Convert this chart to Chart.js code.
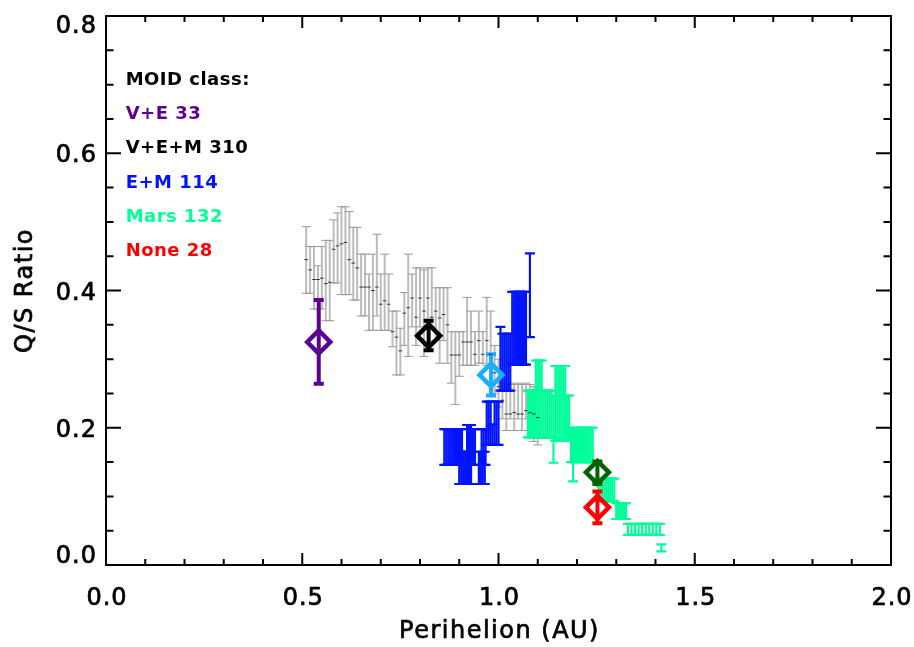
<!DOCTYPE html>
<html>
<head>
<meta charset="utf-8">
<title>Q/S Ratio vs Perihelion</title>
<script src="https://cdn.jsdelivr.net/npm/chart.js@4.4.1/dist/chart.umd.min.js"></script>
<style>
  html, body { margin: 0; padding: 0; background: #ffffff; }
  #wrap { width: 914px; height: 647px; }
</style>
</head>
<body>
<div id="wrap"><canvas id="qsChart" width="914" height="647"></canvas></div>
<script>
// Axis ticks and labels
const xMajorTicks = [0.0, 0.5, 1.0, 1.5, 2.0];
const xTickLabels = ['0.0', '0.5', '1.0', '1.5', '2.0'];
const xMinorTicks = [0.1, 0.2, 0.3, 0.4, 0.6, 0.7, 0.8, 0.9, 1.1, 1.2, 1.3, 1.4, 1.6, 1.7, 1.8, 1.9];
const yMajorTicks = [0.0, 0.2, 0.4, 0.6, 0.8];
const yTickLabels = ['0.0', '0.2', '0.4', '0.6', '0.8'];
const yMinorTicks = [0.05, 0.1, 0.15, 0.25, 0.3, 0.35, 0.45, 0.5, 0.55, 0.65, 0.7, 0.75];

// Legend text (MOID class counts)
const legendLabels = ['MOID class:', 'V+E 33', 'V+E+M 310', 'E+M 114', 'Mars 132', 'None 28'];
const legendColors = ['#000000', '#5c0094', '#000000', '#0014ff', '#00ff99', '#ff0000'];
const legendX = 0.05;
const legendY = [0.70, 0.65, 0.60, 0.55, 0.50, 0.45];

// V+E+M running values (grey)
const grayX = [0.51,0.52,0.53,0.54,0.55,0.56,0.57,0.58,0.59,0.60,
               0.61,0.62,0.63,0.64,0.65,0.66,0.67,0.68,0.69,0.70,
               0.71,0.72,0.73,0.74,0.75,0.76,0.77,0.78,0.79,0.80,
               0.81,0.82,0.83,0.84,0.85,0.86,0.87,0.88,0.89,0.90,
               0.91,0.92,0.93,0.94,0.95,0.96,0.97,0.98,0.99,1.00,
               1.01,1.02,1.03,1.04,1.05,1.06,1.07,1.08,1.09,1.10];
const grayQS = [0.445,0.430,0.416,0.416,0.418,0.410,0.412,0.460,0.465,0.468,
                0.470,0.445,0.440,0.433,0.405,0.405,0.405,0.400,0.405,0.380,
                0.385,0.380,0.340,0.332,0.312,0.367,0.375,0.389,0.361,0.389,
                0.370,0.389,0.361,0.370,0.360,0.365,0.350,0.306,0.306,0.306,
                0.325,0.325,0.325,0.307,0.327,0.307,0.327,0.307,0.280,0.260,
                0.240,0.220,0.220,0.222,0.220,0.220,0.225,0.222,0.220,0.215];
const grayLo = [0.396,0.396,0.373,0.373,0.373,0.356,0.356,0.411,0.411,0.394,
                0.394,0.394,0.386,0.386,0.363,0.363,0.342,0.342,0.363,0.342,
                0.342,0.342,0.318,0.277,0.277,0.320,0.304,0.347,0.320,0.347,
                0.304,0.347,0.347,0.327,0.294,0.327,0.294,0.265,0.234,0.275,
                0.291,0.291,0.291,0.291,0.294,0.294,0.291,0.291,0.250,0.230,
                0.213,0.196,0.213,0.196,0.213,0.196,0.213,0.196,0.180,0.175];
const grayHi = [0.493,0.464,0.464,0.436,0.464,0.473,0.473,0.503,0.513,0.522,
                0.522,0.515,0.492,0.492,0.453,0.453,0.424,0.453,0.482,0.424,
                0.453,0.424,0.370,0.370,0.345,0.397,0.453,0.424,0.433,0.433,
                0.430,0.433,0.433,0.404,0.404,0.404,0.404,0.340,0.340,0.340,
                0.340,0.390,0.370,0.340,0.370,0.340,0.390,0.370,0.320,0.300,
                0.265,0.263,0.265,0.263,0.265,0.263,0.265,0.263,0.260,0.255];

// E+M running values (blue)
const blueX  = [0.862,0.867,0.872,0.877,0.882,0.887,0.892,0.897,0.902,0.907,0.920,0.925,0.930,0.935,0.940,0.957,0.962,0.967,
                0.900,0.905,0.910,0.915,0.920,0.925,0.930,0.950,0.955,0.960,0.965,
                0.970,0.975,0.980,0.985,0.990,0.995,1.000,
                1.005,1.010,1.015,1.020,1.025,1.030,
                1.035,1.040,1.045,1.050,1.055,1.060,1.065,1.070,
                1.080];
const blueLo = [0.146,0.146,0.146,0.146,0.146,0.146,0.146,0.146,0.146,0.146,0.146,0.146,0.146,0.146,0.146,0.146,0.146,0.146,
                0.118,0.118,0.118,0.118,0.118,0.118,0.118,0.118,0.118,0.118,0.118,
                0.175,0.175,0.175,0.175,0.175,0.175,0.175,
                0.254,0.254,0.254,0.254,0.254,0.254,
                0.292,0.292,0.292,0.292,0.292,0.292,0.292,0.292,
                0.332];
const blueHi = [0.198,0.198,0.198,0.198,0.198,0.198,0.198,0.198,0.198,0.198,0.204,0.204,0.204,0.198,0.198,0.198,0.198,0.198,
                0.165,0.165,0.165,0.165,0.165,0.165,0.165,0.165,0.165,0.165,0.165,
                0.238,0.238,0.238,0.205,0.238,0.238,0.238,
                0.347,0.337,0.337,0.337,0.337,0.337,
                0.398,0.398,0.398,0.398,0.398,0.398,0.398,0.398,
                0.454];

// Mars running values (green)
const greenX  = [1.075,1.080,1.085,1.090,1.115,1.120,1.125,1.130,1.135,
                 1.095,1.100,1.105,1.110,
                 1.140,1.145,1.150,1.155,1.160,1.165,1.170,1.175,1.180,
                 1.185,1.190,1.195,1.200,1.205,1.210,1.215,1.220,1.225,1.230,1.235,1.240,
                 1.255,1.260,1.265,1.270,1.275,1.280,1.285,1.290,1.295,
                 1.300,1.305,1.310,1.315,1.320,1.325,
                 1.330,1.339,1.348,1.357,1.366,1.375,1.384,1.393,1.402,1.411,
                 1.415];
const greenLo = [0.186,0.186,0.186,0.186,0.186,0.186,0.186,0.186,0.186,
                 0.186,0.186,0.186,0.186,
                 0.149,0.181,0.181,0.181,0.181,0.181,0.181,0.181,0.181,
                 0.150,0.122,0.150,0.150,0.150,0.150,0.150,0.150,0.150,0.150,0.150,0.150,
                 0.093,0.093,0.093,0.093,0.093,0.093,0.093,0.093,0.093,
                 0.067,0.067,0.067,0.067,0.067,0.067,
                 0.044,0.044,0.044,0.044,0.044,0.044,0.044,0.044,0.044,0.044,
                 0.020];
const greenHi = [0.254,0.254,0.254,0.254,0.254,0.254,0.254,0.254,0.254,
                 0.298,0.298,0.298,0.298,
                 0.247,0.290,0.290,0.290,0.290,0.290,0.290,0.247,0.247,
                 0.200,0.200,0.200,0.200,0.200,0.200,0.200,0.200,0.200,0.200,0.200,0.200,
                 0.126,0.126,0.126,0.126,0.126,0.126,0.126,0.126,0.126,
                 0.090,0.090,0.090,0.090,0.090,0.090,
                 0.060,0.060,0.060,0.060,0.060,0.060,0.060,0.060,0.060,0.060,
                 0.030];

// class means (V+E, V+E+M, E+M, Mars, None)
const meanX  = [0.542, 0.822, 0.981, 1.252, 1.252];
const meanQS = [0.325, 0.334, 0.277, 0.135, 0.084];
const meanLo = [0.264, 0.313, 0.247, 0.118, 0.061];
const meanHi = [0.386, 0.356, 0.307, 0.151, 0.107];
const meanColors = ['#5c0094', '#000000', '#1aaeff', '#006400', '#ff0000'];

const FONT = '"DejaVu Sans", "Liberation Sans", sans-serif';

function toPoints(xs, ys) {
    return xs.map((x, i) => ({ x: x, y: ys[i] }));
}
function midPoints(xs, lo, hi) {
    return xs.map((x, i) => ({ x: x, y: (lo[i] + hi[i]) / 2 }));
}

// vertical error bars with caps, drawn through the chart scales
const errorBars = {
    id: 'errorBars',
    beforeDatasetsDraw(chart) {
        const ctx = chart.ctx;
        const xs = chart.scales.x, ys = chart.scales.y;
        chart.data.datasets.forEach(ds => {
            if (!ds.errLo) return;
            ctx.save();
            ctx.lineCap = 'butt';
            ds.data.forEach((p, i) => {
                const col = Array.isArray(ds.errColor) ? ds.errColor[i] : ds.errColor;
                const px = xs.getPixelForValue(p.x);
                const yl = ys.getPixelForValue(ds.errLo[i]);
                const yh = ys.getPixelForValue(ds.errHi[i]);
                const c = ds.capHalf;
                ctx.strokeStyle = col;
                ctx.lineWidth = ds.errWidth;
                ctx.beginPath();
                ctx.moveTo(px, yl); ctx.lineTo(px, yh);
                ctx.stroke();
                ctx.strokeStyle = ds.capColor || col;
                ctx.lineWidth = ds.capWidth || ds.errWidth;
                ctx.beginPath();
                ctx.moveTo(px - c, yl); ctx.lineTo(px + c, yl);
                ctx.moveTo(px - c, yh); ctx.lineTo(px + c, yh);
                ctx.stroke();
            });
            ctx.restore();
        });
    }
};

function heavyText(ctx, text, x, y) {
    ctx.fillText(text, x, y);
    ctx.strokeText(text, x, y);
}

// box, inward ticks on all sides, tick labels, titles, legend text
const frameAxes = {
    id: 'frameAxes',
    afterDraw(chart) {
        const ctx = chart.ctx;
        const a = chart.chartArea;
        const xs = chart.scales.x, ys = chart.scales.y;
        const xLen = 12, yLen = 15;
        ctx.save();
        ctx.strokeStyle = '#000';
        ctx.lineWidth = 2;
        ctx.strokeRect(a.left, a.top, a.right - a.left, a.bottom - a.top);
        ctx.beginPath();
        xMajorTicks.concat(xMinorTicks).forEach(v => {
            const len = xMajorTicks.includes(v) ? xLen : xLen / 2;
            const px = xs.getPixelForValue(v);
            ctx.moveTo(px, a.bottom); ctx.lineTo(px, a.bottom - len);
            ctx.moveTo(px, a.top); ctx.lineTo(px, a.top + len);
        });
        yMajorTicks.concat(yMinorTicks).forEach(v => {
            const len = yMajorTicks.includes(v) ? yLen : yLen / 2;
            const py = ys.getPixelForValue(v);
            ctx.moveTo(a.left, py); ctx.lineTo(a.left + len, py);
            ctx.moveTo(a.right, py); ctx.lineTo(a.right - len, py);
        });
        ctx.stroke();

        ctx.fillStyle = '#000';
        ctx.strokeStyle = '#000';
        ctx.lineWidth = 0.7;
        ctx.font = '24px ' + FONT;
        ctx.letterSpacing = '1px';
        ctx.textAlign = 'center';
        ctx.textBaseline = 'alphabetic';
        xMajorTicks.forEach((v, i) => {
            heavyText(ctx, xTickLabels[i], xs.getPixelForValue(v) + 1, a.bottom + 40);
        });
        ctx.textAlign = 'right';
        ctx.textBaseline = 'middle';
        yMajorTicks.forEach((v, i) => {
            let cy = ys.getPixelForValue(v) + 3;
            cy = Math.max(a.top + 11, Math.min(a.bottom - 8.5, cy));
            heavyText(ctx, yTickLabels[i], a.left - 9, cy);
        });

        ctx.letterSpacing = '1.5px';
        ctx.textAlign = 'center';
        ctx.textBaseline = 'alphabetic';
        heavyText(ctx, 'Perihelion (AU)', (a.left + a.right) / 2 + 1, a.bottom + 73);
        ctx.save();
        ctx.translate(32, (a.top + a.bottom) / 2);
        ctx.rotate(-Math.PI / 2);
        heavyText(ctx, 'Q/S Ratio', 0, 0);
        ctx.restore();

        ctx.letterSpacing = '0.5px';
        ctx.font = 'bold 18px ' + FONT;
        ctx.textAlign = 'left';
        legendLabels.forEach((t, i) => {
            ctx.fillStyle = legendColors[i];
            ctx.fillText(t, xs.getPixelForValue(legendX), ys.getPixelForValue(legendY[i]));
        });
        ctx.restore();
    }
};

const ctx = document.getElementById('qsChart').getContext('2d');
const qsChart = new Chart(ctx, {
    type: 'scatter',
    data: {
        datasets: [
            {
                label: 'V+E+M',
                data: toPoints(grayX, grayQS),
                errLo: grayLo, errHi: grayHi,
                errColor: '#bcbcbc', errWidth: 2,
                capColor: '#9a9a9a', capWidth: 1, capHalf: 4.5,
                pointStyle: 'line', pointRadius: 1.8,
                pointBorderColor: '#333333', pointBorderWidth: 1
            },
            {
                label: 'E+M',
                data: midPoints(blueX, blueLo, blueHi),
                errLo: blueLo, errHi: blueHi,
                errColor: '#0014ff', errWidth: 2.2, capHalf: 5,
                pointRadius: 0
            },
            {
                label: 'Mars',
                data: midPoints(greenX, greenLo, greenHi),
                errLo: greenLo, errHi: greenHi,
                errColor: '#00ff99', errWidth: 2.2, capHalf: 5,
                pointRadius: 0
            },
            {
                label: 'Class means',
                data: toPoints(meanX, meanQS),
                errLo: meanLo, errHi: meanHi,
                errColor: meanColors, errWidth: 4, capHalf: 5,
                pointStyle: 'rectRot', pointRadius: 11.5,
                pointBorderWidth: 4.5,
                pointBorderColor: meanColors,
                pointBackgroundColor: 'rgba(0,0,0,0)'
            }
        ]
    },
    options: {
        responsive: false,
        animation: false,
        events: [],
        layout: { padding: { left: 106, right: 23, top: 7, bottom: 82 } },
        plugins: {
            legend: { display: false },
            tooltip: { enabled: false }
        },
        scales: {
            x: { type: 'linear', min: 0, max: 2, display: false },
            y: { type: 'linear', min: 0, max: 0.8, display: false }
        }
    },
    plugins: [errorBars, frameAxes]
});
</script>
</body>
</html>
